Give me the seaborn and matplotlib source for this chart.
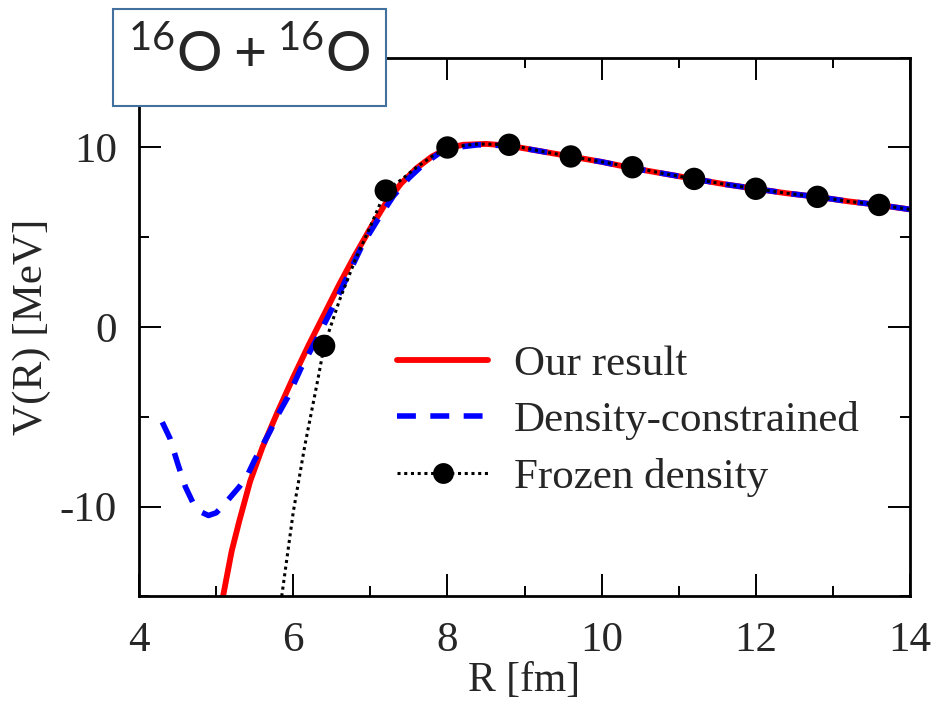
import seaborn as sns
import numpy as np
import matplotlib.pyplot as plt
import matplotlib.patches as mpatches
from matplotlib.lines import Line2D
from matplotlib.ticker import MultipleLocator

# Our result (red solid)
our_r = [5.08, 5.2, 5.3, 5.44, 5.6, 5.8, 6.0, 6.2, 6.4, 6.6, 6.8, 7.0, 7.2, 7.4, 7.6, 7.8,
         8.0, 8.2, 8.5, 8.8, 9.2, 9.6, 10.0, 10.4, 10.8, 11.2, 11.6, 12.0, 12.4, 12.8,
         13.2, 13.6, 14.0]
our_v = [-15.2, -12.5, -10.8, -8.6, -6.7, -4.7, -2.8, -1.0, 0.7, 2.4, 4.0, 5.5, 6.9, 8.0,
         8.85, 9.5, 9.95, 10.15, 10.2, 10.1, 9.8, 9.5, 9.2, 8.85, 8.55, 8.25, 7.95, 7.7,
         7.45, 7.25, 7.0, 6.8, 6.55]

# Density-constrained (blue dashed)
dc_r = [4.3, 4.4, 4.5, 4.6, 4.7, 4.8, 4.9, 5.0, 5.1, 5.2, 5.3, 5.4, 5.5, 5.6, 5.7, 5.8,
        5.93, 6.1, 6.3, 6.5, 6.7, 6.9, 7.1, 7.3, 7.5, 7.7, 7.9, 8.1, 8.4, 8.8, 9.2, 9.6,
        10.0, 10.4, 10.8, 11.2, 11.6, 12.0, 12.4, 12.8, 13.2, 13.6, 14.0]
dc_v = [-5.3, -6.2, -7.6, -8.9, -9.8, -10.3, -10.5, -10.35, -9.9, -9.4, -8.9, -8.3, -7.4,
        -6.6, -5.8, -4.9, -3.9, -2.3, -0.7, 1.0, 2.8, 4.6, 6.0, 7.3, 8.3, 9.1, 9.7, 10.0,
        10.15, 10.1, 9.8, 9.5, 9.2, 8.85, 8.55, 8.25, 7.95, 7.7, 7.45, 7.25, 7.0, 6.8, 6.55]

# Frozen density (black dotted + circles)
fz_r = [5.85, 6.0, 6.15, 6.32, 6.4, 6.6, 6.8, 7.0, 7.2, 7.4, 7.6, 7.8, 8.0, 8.4, 8.8, 9.2,
        9.6, 10.0, 10.4, 10.8, 11.2, 11.6, 12.0, 12.4, 12.8, 13.2, 13.6, 14.0]
fz_v = [-15.0, -10.3, -6.6, -2.9, -1.05, 1.5, 3.7, 5.6, 7.6, 8.2, 8.9, 9.5, 10.0, 10.2,
        10.15, 9.8, 9.5, 9.2, 8.9, 8.55, 8.25, 7.95, 7.7, 7.45, 7.25, 7.0, 6.8, 6.55]
fz_mark_r = [6.4, 7.2, 8.0, 8.8, 9.6, 10.4, 11.2, 12.0, 12.8, 13.6]

sns.set_style('ticks')
plt.rcParams['font.family'] = ['Liberation Serif', 'DejaVu Serif']
plt.rcParams['axes.unicode_minus'] = False
plt.rcParams['mathtext.fontset'] = 'custom'
plt.rcParams['mathtext.rm'] = 'Lato'

fig, ax = plt.subplots(figsize=(9.4, 7.04), dpi=100)
fig.subplots_adjust(left=0.148, right=0.968, bottom=0.153, top=0.918)

sns.lineplot(x=our_r, y=our_v, color='#ff0000', lw=4.2, ax=ax, estimator=None,
             sort=False, zorder=2)
sns.lineplot(x=dc_r, y=dc_v, color='#0000ff', lw=4.0, ax=ax, estimator=None,
             sort=False, linestyle=(0, (3.4, 2.6)), zorder=3)
sns.lineplot(x=fz_r, y=fz_v, color='black', lw=2.2, ax=ax, estimator=None,
             sort=False, linestyle=(0, (1, 1.2)), zorder=4)
mask = np.isin(fz_r, fz_mark_r)
sns.scatterplot(x=np.array(fz_r)[mask], y=np.array(fz_v)[mask], color='black', s=260,
                edgecolor='none', ax=ax, zorder=5)

ax.set_xlim(4, 14)
ax.set_ylim(-15, 15)
ax.set_xticks(range(4, 15, 2))
ax.set_yticks([-10, 0, 10])
ax.xaxis.set_minor_locator(MultipleLocator(1))
ax.yaxis.set_minor_locator(MultipleLocator(5))
ax.tick_params(which='both', direction='in', top=True, right=True, width=1.4,
               color='black', labelsize=31)
ax.tick_params(which='major', length=16)
ax.tick_params(which='minor', length=7.5)
ax.tick_params(axis='x', pad=18)
ax.tick_params(axis='y', pad=16)
for s in ax.spines.values():
    s.set_linewidth(2.0)
    s.set_color('black')

ax.set_xlabel('R [fm]', fontsize=30, labelpad=1)
ax.set_ylabel('V(R) [MeV]', fontsize=31, labelpad=6)

handles = [
    Line2D([], [], color='#ff0000', lw=4.2),
    Line2D([], [], color='#0000ff', lw=4.0, linestyle=(0, (3.4, 2.6))),
    Line2D([], [], color='black', lw=2.2, linestyle=(0, (1, 1.2)), marker='o',
           markersize=15, markeredgewidth=0),
]
labels = ['Our result', 'Density-constrained', 'Frozen density']
ax.legend(handles, labels, loc='upper left', bbox_to_anchor=(0.335, 0.467),
          frameon=False, fontsize=31, handlelength=2.1, handletextpad=0.6,
          labelspacing=0.4, borderpad=0, borderaxespad=0, numpoints=1)

# title box
box = mpatches.Rectangle((113 / 940, 1 - 106 / 704), 273 / 940, 97 / 704,
                         transform=fig.transFigure, facecolor='white',
                         edgecolor='#41719c', lw=1.5, zorder=10)
fig.add_artist(box)
fig.text(249 / 940, 1 - 56 / 704, r'$^{16}\mathrm{O} + {}^{16}\mathrm{O}$',
         fontsize=41, ha='center', va='center', zorder=11)

fig.savefig('out.png', dpi=100)
